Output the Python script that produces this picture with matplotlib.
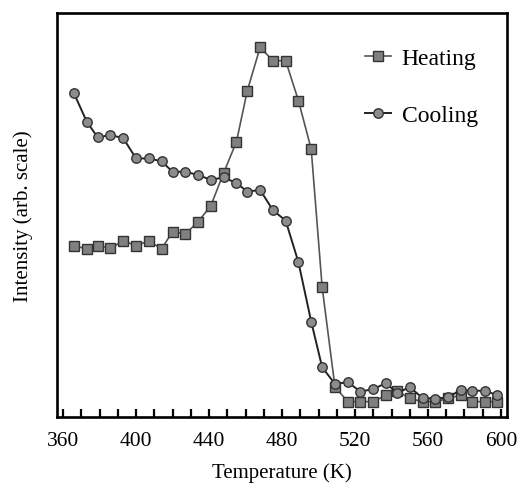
import numpy as np
import matplotlib
matplotlib.use('Agg')
import matplotlib.pyplot as plt
from matplotlib.ticker import MultipleLocator

plt.rcParams['font.family'] = ['Liberation Serif', 'DejaVu Serif']

# temperature grid (K), same for both runs
temp = [366, 373, 379, 386, 393, 400, 407, 414, 420, 427, 434, 441, 448, 455,
        461, 468, 475, 482, 489, 496, 502, 509, 516, 523, 530, 537, 543, 550,
        557, 564, 571, 578, 584, 591, 598]

heating = [42.4, 41.6, 42.4, 41.8, 43.6, 42.4, 43.6, 41.6, 45.9, 45.3, 48.3,
           52.3, 60.4, 68.1, 80.8, 91.5, 88.2, 88.2, 78.3, 66.3, 32.1, 7.5,
           3.8, 3.8, 3.8, 5.4, 6.5, 4.6, 3.8, 3.8, 4.6, 5.4, 3.8, 3.8, 3.8]

cooling = [80.1, 73.1, 69.2, 69.8, 69.0, 64.0, 64.0, 63.3, 60.7, 60.7, 59.9,
           58.7, 59.3, 57.9, 55.8, 56.2, 51.2, 48.6, 38.3, 23.6, 12.3, 8.2,
           8.6, 6.3, 6.9, 8.4, 5.9, 7.4, 4.7, 4.5, 4.9, 6.7, 6.5, 6.5, 5.4]

fig = plt.figure(figsize=(5.26, 4.89), dpi=100)
ax = fig.add_axes([0.1084, 0.1452, 0.8555, 0.8262])

ax.plot(temp, heating, color='#555555', lw=1.2, marker='s', ms=6.6,
        mfc='#808080', mec='#333333', mew=1.0, label='Heating', zorder=2)
ax.plot(temp, cooling, color='#222222', lw=1.4, marker='o', ms=6.8,
        mfc='#8c8c8c', mec='#333333', mew=1.0, label='Cooling', zorder=3)

ax.set_xlim(356.7, 603.3)
ax.set_ylim(0, 100)
ax.xaxis.set_major_locator(MultipleLocator(40))
ax.xaxis.set_minor_locator(MultipleLocator(10))
ax.tick_params(axis='x', which='both', direction='in', length=5.5, width=1.6,
               labelsize=15.5, pad=10)
ax.set_yticks([])
for s in ax.spines.values():
    s.set_linewidth(1.9)

ax.set_xlabel('Temperature (K)', fontsize=15, labelpad=9)
ax.set_ylabel('Intensity (arb. scale)', fontsize=15, labelpad=17)

leg = ax.legend(loc='upper right', bbox_to_anchor=(0.956, 0.938), frameon=False,
                fontsize=17, handlelength=1.1, handletextpad=0.45,
                labelspacing=1.52, borderaxespad=0)

fig.savefig('out.png', dpi=100)
